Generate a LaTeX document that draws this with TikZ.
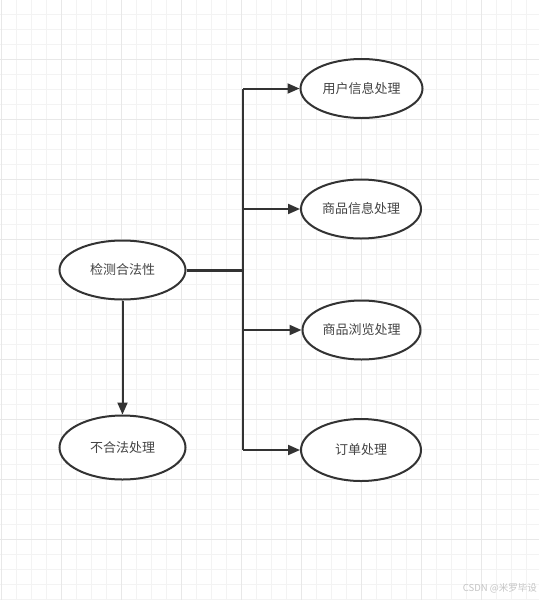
\documentclass[tikz,border=0pt]{standalone}
\usepackage{fontspec}
\newfontfamily\cjk{Noto Sans CJK SC}
\usetikzlibrary{shapes.geometric,arrows.meta}
\definecolor{minorgrid}{HTML}{F3F3F3}
\definecolor{majorgrid}{HTML}{E8E8E8}
\definecolor{ink}{HTML}{333333}
\definecolor{txt}{HTML}{444444}
\definecolor{wmark}{HTML}{C4C4C4}
\begin{document}
\begin{tikzpicture}[x=1pt,y=-1pt,
  proc/.style={ellipse, draw=ink, line width=2pt, minimum width=122pt, minimum height=59pt,
    inner sep=0pt, font=\cjk\fontsize{13}{15}\selectfont, text=txt, fill=white},
  conn/.style={draw=ink, line width=2pt},
  arr/.style={conn, -{Triangle[length=12pt,width=10pt]}}]
\fill[white] (0,0) rectangle (539,600);
\useasboundingbox (0,0) rectangle (539,600);
% grid
\foreach \i in {0,...,35} \draw[minorgrid, line width=1pt] ({1.7+15*\i},0) -- ++(0,600);
\foreach \i in {0,...,39} \draw[minorgrid, line width=1pt] (0,{14.5+15*\i}) -- ++(539,0);
\foreach \i in {0,...,8} \draw[majorgrid, line width=1pt] ({1.7+60*\i},0) -- ++(0,600);
\foreach \i in {0,...,9} \draw[majorgrid, line width=1pt] (0,{-0.5+60*\i}) -- ++(539,0);
% nodes
\node[proc, minimum width=126pt] (check) at (122.5,270) {检测合法性};
\node[proc, minimum width=126pt, minimum height=64pt] (illegal) at (122.5,447.5) {不合法处理};
\node[proc] (user) at (361.5,88.5) {用户信息处理};
\node[proc, minimum width=120pt] (goods) at (361,209) {商品信息处理};
\node[proc, minimum width=118pt] (browse) at (361.5,330) {商品浏览处理};
\node[proc, minimum width=120pt, minimum height=62pt] (order) at (361,450) {订单处理};
% connectors
\coordinate (jn) at (243,270);
\draw[conn, line width=3pt] (check.east) -- (check.east -| jn);
\draw[conn] (jn |- user.west) -- (jn |- order.west);
\draw[arr] (jn |- user.west) -- (user.west);
\draw[arr] (jn |- goods.west) -- (goods.west);
\draw[arr] (jn |- browse.west) -- (browse.west);
\draw[arr] (jn |- order.west) -- (order.west);
\draw[arr] (check.south) -- (illegal.north);
% watermark
\node[font=\cjk\fontsize{9.5}{11}\selectfont, text=wmark, anchor=east, inner sep=0pt] (wm) at (537,588) {CSDN @米罗毕设};
\end{tikzpicture}
\end{document}
